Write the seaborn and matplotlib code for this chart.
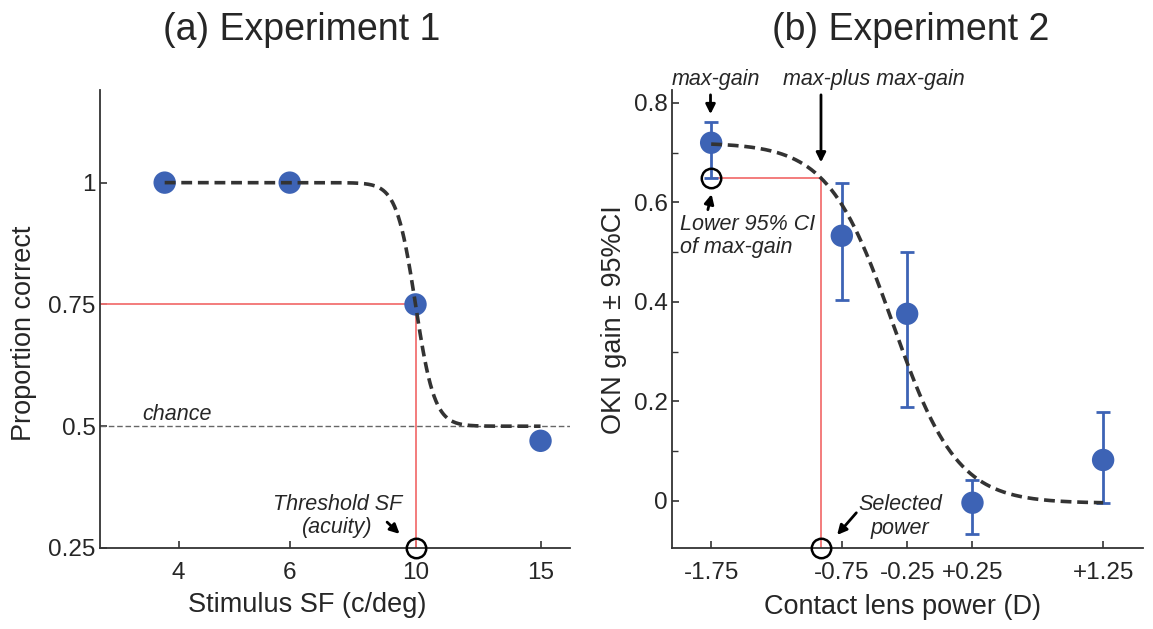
import numpy as np
import pandas as pd
import matplotlib
matplotlib.use('Agg')
import matplotlib.pyplot as plt
import seaborn as sns

# Experimento 1: proporción correcta por frecuencia espacial
sf_values = [3.8, 6.0, 9.5, 15.0]
prop_correct = [1.0, 1.0, 0.75, 0.47]
sf_ticks = [4, 6, 9.5, 15]
sf_ticklabels = ['4', '6', '10', '15']
chance_level = 0.5
threshold_sf = 9.5
fit1_slope = 0.015  # pendiente del ajuste (log10)

# Experimento 2: ganancia OKN por potencia de la lente
lens_power = [-1.75, -0.75, -0.25, 0.25, 1.25]
okn_gain = [0.72, 0.533, 0.376, -0.004, 0.082]
ci_low = [0.649, 0.404, 0.189, -0.066, -0.004]
ci_high = [0.762, 0.639, 0.50, 0.042, 0.179]
power_ticklabels = ['-1.75', '-0.75', '-0.25', '+0.25', '+1.25']
fit2_hi, fit2_lo, fit2_mu, fit2_s = 0.72, -0.005, -0.361, 0.247

blue = '#3d63b5'
red = '#f27272'
dark = '#333333'

sns.set_style('ticks')
plt.rcParams['font.family'] = ['Liberation Sans', 'DejaVu Sans']

fig = plt.figure(figsize=(11.53, 6.29), dpi=100)
ax1 = fig.add_axes([0.0867, 0.1288, 0.4076, 0.728])
ax2 = fig.add_axes([0.5828, 0.1288, 0.4085, 0.728])

# ---- Panel (a)
x_fit = np.geomspace(sf_values[0], sf_values[-1], 400)
y_fit = chance_level + (1 - chance_level) / (1 + np.exp((np.log10(x_fit) - np.log10(threshold_sf)) / fit1_slope))
ax1.set_xscale('log')
ax1.set_xlim(3.0, 16.7)
ax1.set_ylim(0.25, 1.19)

ax1.axhline(chance_level, color='#666666', lw=1, ls=(0, (4, 2)), zorder=1)
ax1.plot([3.0, threshold_sf], [0.75, 0.75], color=red, lw=1.3, zorder=1)
ax1.plot([threshold_sf, threshold_sf], [0.25, 0.75], color=red, lw=1.3, zorder=1)
sns.scatterplot(x=sf_values, y=prop_correct, ax=ax1, s=260, color=blue, edgecolor='none', zorder=3)
sns.lineplot(x=x_fit, y=y_fit, ax=ax1, color=dark, lw=2.6, ls=(0, (3, 1.6)), zorder=4)
ax1.plot([threshold_sf], [0.25], 'o', ms=14, mfc='none', mec='black', mew=1.8, clip_on=False, zorder=5)

ax1.text(3.5, 0.525, 'chance', fontsize=15.5, style='italic', va='center', ha='left')
ax1.text(7.14, 0.316, 'Threshold SF\n(acuity)', fontsize=15.5, style='italic', ha='center', va='center',
         multialignment='center', linespacing=1.15)
ax1.annotate('', xy=(9.03, 0.275), xytext=(8.5, 0.307),
             arrowprops=dict(arrowstyle='-|>', lw=2, color='black', mutation_scale=14))

ax1.set_xticks(sf_ticks)
ax1.set_xticklabels(sf_ticklabels)
ax1.xaxis.set_minor_locator(matplotlib.ticker.NullLocator())
ax1.set_yticks([0.25, 0.5, 0.75, 1.0])
ax1.set_yticklabels(['0.25', '0.5', '0.75', '1'])
ax1.set_xlabel('Stimulus SF (c/deg)', fontsize=19.5)
ax1.set_ylabel('Proportion correct', fontsize=19.5)
ax1.xaxis.set_label_coords(0.44, -0.097)
ax1.yaxis.set_label_coords(-0.133, 0.469)

# ---- Panel (b)
p_fit = np.linspace(lens_power[0], lens_power[-1], 400)
g_fit = fit2_lo + (fit2_hi - fit2_lo) / (1 + np.exp((p_fit - fit2_mu) / fit2_s))
sel_power = fit2_mu + fit2_s * np.log((fit2_hi - fit2_lo) / (ci_low[0] - fit2_lo) - 1)
ax2.set_xlim(-2.05, 1.555)
ax2.set_ylim(-0.095, 0.826)

ax2.plot([lens_power[0], sel_power], [ci_low[0], ci_low[0]], color=red, lw=1.3, zorder=1)
ax2.plot([sel_power, sel_power], [-0.095, ci_low[0]], color=red, lw=1.3, zorder=1)
ax2.errorbar(lens_power, okn_gain,
             yerr=[np.array(okn_gain) - np.array(ci_low), np.array(ci_high) - np.array(okn_gain)],
             fmt='none', ecolor=blue, elinewidth=2, capsize=5, capthick=2, zorder=2)
sns.scatterplot(x=lens_power, y=okn_gain, ax=ax2, s=260, color=blue, edgecolor='none', zorder=3)
sns.lineplot(x=p_fit, y=g_fit, ax=ax2, color=dark, lw=2.6, ls=(0, (3, 1.6)), zorder=4)
ax2.plot([lens_power[0]], [ci_low[0]], 'o', ms=14, mfc='none', mec='black', mew=1.8, zorder=5)
ax2.plot([sel_power], [-0.095], 'o', ms=14, mfc='none', mec='black', mew=1.8, clip_on=False, zorder=5)

arrow_kw = dict(arrowstyle='-|>', lw=2, color='black', mutation_scale=14)
ax2.text(-1.71, 0.848, 'max-gain', fontsize=15.5, style='italic', ha='center', va='center')
ax2.annotate('', xy=(-1.755, 0.772), xytext=(-1.755, 0.822), arrowprops=arrow_kw, annotation_clip=False)
ax2.text(-0.503, 0.848, 'max-plus max-gain', fontsize=15.5, style='italic', ha='center', va='center')
ax2.annotate('', xy=(sel_power, 0.675), xytext=(sel_power, 0.822), arrowprops=arrow_kw, annotation_clip=False)
ax2.annotate('', xy=(-1.742, 0.622), xytext=(-1.78, 0.58), arrowprops=arrow_kw)
ax2.text(-1.99, 0.533, 'Lower 95% CI\nof max-gain', fontsize=15.5, style='italic', ha='left', va='center',
         linespacing=1.15)
ax2.text(-0.304, -0.032, 'Selected\npower', fontsize=15.5, style='italic', ha='center', va='center',
         multialignment='center', linespacing=1.15)
ax2.annotate('', xy=(-0.8, -0.073), xytext=(-0.625, -0.02), arrowprops=arrow_kw)

ax2.set_xticks(lens_power)
ax2.set_xticklabels(power_ticklabels)
ax2.set_yticks([0, 0.2, 0.4, 0.6, 0.8])
ax2.set_yticklabels(['0', '0.2', '0.4', '0.6', '0.8'])
ax2.yaxis.set_minor_locator(matplotlib.ticker.MultipleLocator(0.1))
ax2.set_xlabel('Contact lens power (D)', fontsize=19.5)
ax2.set_ylabel('OKN gain ± 95%CI', fontsize=19.5)
ax2.xaxis.set_label_coords(0.49, -0.1)
ax2.yaxis.set_label_coords(-0.096, 0.498)

for ax in (ax1, ax2):
    sns.despine(ax=ax)
    for sp in ('left', 'bottom'):
        ax.spines[sp].set_linewidth(1.3)
        ax.spines[sp].set_color(dark)
    ax.tick_params(which='major', direction='in', length=5, width=1.2, color=dark, labelsize=17.5)
    ax.tick_params(axis='x', which='major', pad=10)
    ax.tick_params(axis='y', which='major', pad=3)
    ax.tick_params(which='minor', direction='in', length=4, width=1.0, color=dark)
    ax.grid(False)

fig.text(0.262, 0.952, '(a) Experiment 1', fontsize=27, ha='center', va='center')
fig.text(0.79, 0.952, '(b) Experiment 2', fontsize=27, ha='center', va='center')

fig.savefig('out.png', dpi=100)
